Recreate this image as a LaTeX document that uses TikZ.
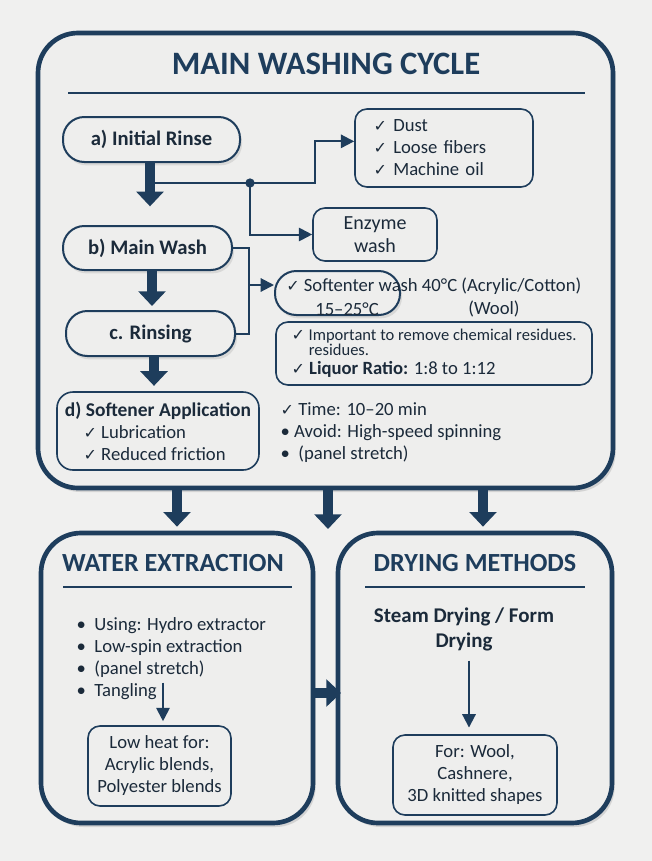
\documentclass[tikz,border=0pt]{standalone}
\usepackage{fontspec}
\setmainfont{Carlito}
\newfontfamily\symfont{DejaVu Sans}
\usetikzlibrary{arrows.meta,positioning,fit,shadows}

\definecolor{navy}{HTML}{1E3D5C}
\definecolor{ink}{HTML}{1B2A3A}
\definecolor{paper}{HTML}{EEEEED}

\newcommand{\chk}{{\symfont\fontsize{12}{12}\selectfont ✓}}
\newcommand{\headfont}{\bfseries\fontsize{15.5}{19}\selectfont}
\newcommand{\smallbody}{\fontsize{12.4}{12.5}\selectfont}
\newcommand{\normbody}{\fontsize{14}{16.5}\selectfont}

\tikzset{
  bodytext/.style={font=\normbody, text=ink},
  headtext/.style={font=\headfont, text=ink},
  paneltitle/.style={font=\bfseries\fontsize{19.6}{22}\selectfont, text=navy},
  panel/.style={draw=navy, line width=3.5pt, fill=paper, rounded corners=30pt,
    inner sep=0pt, drop shadow={opacity=0.25, shadow xshift=2pt, shadow yshift=-3pt}},
  pill/.style={draw=navy, line width=1.5pt, fill=paper, rounded corners=16pt,
    inner sep=0pt, headtext, drop shadow={opacity=0.2, shadow xshift=1.5pt, shadow yshift=-2.5pt}},
  infobox/.style={draw=navy, line width=1.2pt, fill=paper, rounded corners=9pt,
    inner sep=0pt, bodytext, align=center},
  bigarrow/.style={draw=navy, line width=7pt, -{Triangle[width=20pt,length=11pt]}},
  thinline/.style={draw=navy, line width=1.5pt},
  thinarrow/.style={thinline, -{Triangle[width=10pt,length=10pt]}},
  rulebar/.style={draw=navy, line width=1pt}
}

\begin{document}
\begin{tikzpicture}[x=0.75pt,y=-0.75pt]
  \fill[paper!90!white] (0,0) rectangle (652,861);
  \useasboundingbox (0,0) rectangle (652,861);

  % main washing cycle
  \node[panel, fit={(38,33) (613,488)}] (main) {};
  \node[paneltitle, font=\bfseries\fontsize{24.5}{28}\selectfont] (title) at (326,64) {MAIN WASHING CYCLE};
  \draw[rulebar] (68,93) -- (585,93);

  \node[pill, minimum width=132.75pt, minimum height=33.75pt] (rinse) at (151.5,139.5) {a) Initial Rinse};
  \node[pill, minimum width=126.75pt, minimum height=33pt] (mainwash) at (147.5,248) {b) Main Wash};
  \node[pill, minimum width=126.75pt, minimum height=33.75pt] (rinsing) at (150.5,333.5) {c. Rinsing};
  \node[infobox, align=left, rounded corners=12pt, minimum width=151.5pt,
        minimum height=58.5pt] (softapp) at (158,431)
    {{\bfseries\fontsize{14.6}{17}\selectfont d) Softener Application}\\
     \hspace{14pt}\chk\ Lubrication\\
     \hspace{14pt}\chk\ Reduced friction};

  \node[infobox, align=left, inner xsep=14pt, text width=105.5pt, minimum height=58.5pt]
    (dust) at (444,148) {\chk\ Dust\\ \chk\ Loose fibers\\ \chk\ Machine oil};
  \node[infobox, minimum width=93pt, minimum height=39.75pt, font=\fontsize{15}{17.5}\selectfont]
    (enzyme) at (375,234.5) {Enzyme\\ wash};
  \node[pill, minimum width=93.75pt, minimum height=33pt, rounded corners=16pt] (soft) at (337.5,293) {};
  \node[bodytext, anchor=west, inner sep=0pt] (softtxt) at (286,286) {\chk\ Softenter wash 40°C (Acrylic/Cotton)};
  \node[bodytext, inner sep=0pt] (softlow) at (347,309) {15–25°C};
  \node[bodytext, inner sep=0pt] (softwool) at (494,309) {(Wool)};
  \node[infobox, align=left, minimum width=237pt, minimum height=47.25pt]
    (important) at (434,353.5)
    {\smallbody\chk\ Important to remove chemical residues.\\[-5.25pt]
     \smallbody\hspace{13pt}residues.\\[-2.25pt]
     \normbody\chk\ \textbf{Liquor Ratio:} 1:8 to 1:12};
  \node[bodytext, anchor=west, align=left] (timenote) at (276,433)
    {\chk\ Time: 10–20 min\\
     • Avoid: High-speed spinning\\
     •\ \ (panel stretch)};

  % flow inside the cycle
  \draw[bigarrow, shorten >=14pt] (rinse.south -| 150,0) -- (mainwash.north -| 150,0);
  \draw[bigarrow, shorten >=3pt] (mainwash.south -| 152,0) -- (rinsing.north -| 152,0);
  \draw[bigarrow, shorten >=4pt] (rinsing.south -| 154,0) -- (softapp.north -| 154,0);

  \coordinate (split) at (250,183);
  \draw[thinline] (rinse.south |- split) -- (split);
  \draw[thinarrow] (split) -- ++(65,0) |- ([yshift=5pt]dust.west);
  \draw[thinarrow] (split) |- (enzyme.west);
  \fill[navy] (split) circle (3.5pt);

  \draw[thinline] (mainwash.east) -- ++(16,0) coordinate (brk) |- (rinsing.east);
  \draw[thinarrow] (brk |- soft.west) ++(0,-8) -- ([yshift=6pt]soft.west);

  % lower panels
  \node[panel, fit={(41,533) (313,823)}] (water) {};
  \node[panel, fit={(338,533) (612,823)}] (drying) {};
  \coordinate (gap) at (328,529);
  \draw[bigarrow] (main.south -| water.north) -- ([yshift=3pt]water.north);
  \draw[bigarrow] (main.south -| gap) -- (gap);
  \draw[bigarrow] (main.south -| 483,0) -- ([yshift=3pt]drying.north -| 483,0);

  \node[paneltitle] (watertitle) at (173,563) {WATER EXTRACTION};
  \draw[rulebar] (63,587) -- (292,587);
  \node[bodytext, anchor=west, align=left] (waterlist) at (72,659)
    {•\ \ Using: Hydro extractor\\
     •\ \ Low-spin extraction\\
     •\ \ (panel stretch)\\
     •\ \ Tangling};
  \node[infobox, minimum width=107.25pt, minimum height=60pt] (lowheat) at (159.5,766)
    {Low heat for:\\ Acrylic blends,\\ Polyester blends};
  \draw[thinarrow] ([yshift=32pt]lowheat.north -| 163,0) -- ([yshift=3pt]lowheat.north -| 163,0);

  \node[paneltitle] (dryingtitle) at (475,563) {DRYING METHODS};
  \draw[rulebar] (365,587) -- (585,587);
  \node[headtext, align=center, font=\bfseries\fontsize{15.7}{18.75}\selectfont] (steam) at (464,629)
    {Steam Drying / Form\\ Drying};
  \node[infobox, minimum width=123pt, minimum height=60pt] (forwool) at (475,775)
    {For: Wool,\\ Cashnere,\\ 3D knitted shapes};
  \draw[thinarrow, shorten >=5pt] ([yshift=-4pt]steam.south -| 469,0) -- (forwool.north -| 469,0);

  \coordinate (across) at (0,693);
  \draw[bigarrow] (water.east |- across) -- ([xshift=4pt]drying.west |- across);
\end{tikzpicture}
\end{document}
